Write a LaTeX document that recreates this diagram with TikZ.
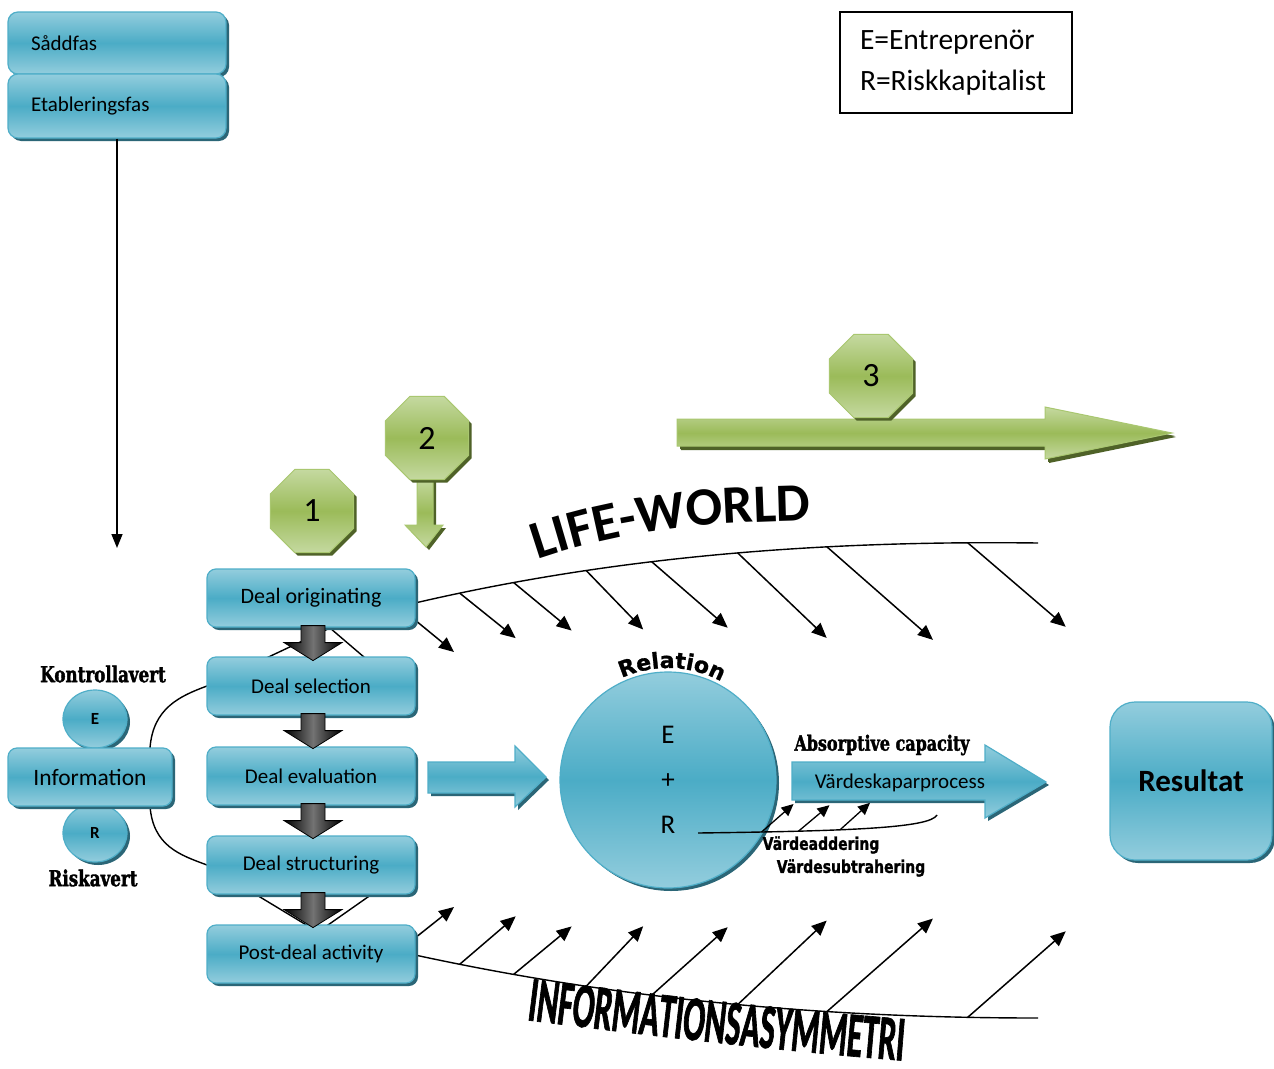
\documentclass[tikz,border=0pt]{standalone}
\usepackage{fontspec}
\setmainfont{Carlito}
\newfontfamily\slabfont[FakeStretch=0.76, FakeBold=1.6]{DejaVu Serif}
\newfontfamily\heavysans[FakeBold=1.2]{DejaVu Sans}
\newfontfamily\narrowheavy[FakeStretch=0.8, FakeBold=1.2]{DejaVu Sans}
\newfontfamily\squeezed[FakeStretch=0.5, FakeBold=1]{Carlito}
\usetikzlibrary{shapes.geometric, shadows, arrows.meta, decorations.text, calc}

\definecolor{bluelight}{HTML}{93CDDD}
\definecolor{bluemid}{HTML}{4BACC6}
\definecolor{blueedge}{HTML}{4FAEC8}
\definecolor{blueshadow}{HTML}{2B6677}
\definecolor{greenlight}{HTML}{C5D9A0}
\definecolor{greenmid}{HTML}{9BBB59}
\definecolor{greenedge}{HTML}{A9C770}
\definecolor{greenshadow}{HTML}{4F6228}

\tikzset{
  bluefill/.style={draw=blueedge, line width=1.2pt,
    top color=bluelight, bottom color=bluelight, middle color=bluemid,
    general shadow={fill=blueshadow, shadow xshift=3pt, shadow yshift=-3pt}},
  greenfill/.style={draw=greenedge, line width=1pt,
    top color=greenlight, bottom color=greenlight, middle color=greenmid,
    general shadow={fill=greenshadow, shadow xshift=3pt, shadow yshift=-3pt}},
  dealbox/.style={bluefill, rounded corners=9pt, minimum width=208pt,
    minimum height=58pt, inner sep=0pt, font=\fontsize{21}{25}\selectfont},
  phasebox/.style={bluefill, rounded corners=10pt, text width=172pt,
    inner xsep=23pt, inner ysep=0pt, align=left, minimum height=62pt,
    font=\fontsize{21}{25}\selectfont},
  octa/.style={greenfill, regular polygon, regular polygon sides=8,
    minimum size=90pt, inner sep=0pt, font=\fontsize{34}{34}\selectfont},
  hatch/.style={line width=1.5pt, -{Triangle[length=15pt,width=13pt]}},
  smallhatch/.style={line width=1.3pt, -{Triangle[length=12pt,width=11pt]}},
  thincurve/.style={line width=1.4pt},
  slab/.style={font=\slabfont\bfseries\fontsize{22}{26}\selectfont},
  pics/dealstep/.style={code={
    \path[draw=black, line width=0.8pt, left color=black, right color=black,
      middle color=black!55]
      (-12,0) -- (12,0) -- (12,17) -- (29,17) -- (0,35) -- (-29,17) -- (-12,17) -- cycle;}}
}

\begin{document}
\begin{tikzpicture}[x=1pt,y=-1pt]
\path[use as bounding box, fill=white] (0,0) rectangle (1274,1068);

% phases
\node[phasebox] (sadd) at (117,43) {Såddfas};
\node[phasebox, minimum height=64pt] (etab) at (117,106) {Etableringsfas};
\coordinate (phaseend) at (117,548);
\draw[line width=1.5pt, -{Triangle[length=14pt,width=11pt]}] (etab.south) -- (phaseend);

% legend
\node[draw, line width=1.3pt, text width=192pt, inner xsep=20pt, align=left,
  minimum height=101pt, font=\fontsize{29.5}{41}\selectfont] (legend) at (956,62.5)
  {E=Entreprenör\\R=Riskkapitalist};

% stage arrows and markers
\path[greenfill, general shadow={fill=greenshadow, shadow xshift=4pt, shadow yshift=-4pt}]
  (677,419) -- (1045,419) -- (1045,407) -- (1172,433) -- (1045,459) -- (1045,446) -- (677,446) -- cycle;
\path[greenfill] (417,478) -- (433,478) -- (433,525) -- (443,525) -- (426,547) -- (405,525) -- (417,525) -- cycle;
\node[octa] (n1) at (312,511) {1};
\node[octa] (n2) at (427,438) {2};
\node[octa] (n3) at (871,376) {3};

% centres of the deal boxes (the curves below run behind them)
\path (311,598) coordinate (origc) (311,686) coordinate (selc) (311,865) coordinate (structc) (311,954) coordinate (postc);

% information arcs around the deal steps
\draw[thincurve] (150,748) .. controls (153,708) and (180,696) .. (207,686) -- (330,628) -- (385,675);
\draw[thincurve] (150,806) .. controls (153,846) and (180,855) .. (207,865) -- (318,932) -- (385,885);

% life-world boundary
\draw[thincurve] (415,603) .. controls (600,560) and (800,540) .. (1038,543)
  coordinate[pos=0.08] (u1) coordinate[pos=0.175] (u2) coordinate[pos=0.3] (u3)
  coordinate[pos=0.41] (u4) coordinate[pos=0.55] (u5) coordinate[pos=0.69] (u6)
  coordinate[pos=0.9] (u7);
\draw[thincurve] (415,955) .. controls (600,995) and (800,1018) .. (1038,1018)
  coordinate[pos=0.08] (l1) coordinate[pos=0.175] (l2) coordinate[pos=0.3] (l3)
  coordinate[pos=0.41] (l4) coordinate[pos=0.55] (l5) coordinate[pos=0.69] (l6)
  coordinate[pos=0.9] (l7);

\draw[hatch] (415,620) -- ++(39,32);
\draw[hatch] (u1) -- ++(56,45);
\draw[hatch] (u2) -- ++(58,48);
\draw[hatch] (u3) -- ++(57,59);
\draw[hatch] (u4) -- ++(76,66);
\draw[hatch] (u5) -- ++(89,85);
\draw[hatch] (u6) -- ++(106,93);
\draw[hatch] (u7) -- ++(98,84);

\draw[hatch] (415,938) -- ++(39,-31);
\draw[hatch] (l1) -- ++(56,-48);
\draw[hatch] (l2) -- ++(58,-48);
\draw[hatch] (l3) -- ++(57,-60);
\draw[hatch] (l4) -- ++(76,-68);
\draw[hatch] (l5) -- ++(89,-84);
\draw[hatch] (l6) -- ++(106,-93);
\draw[hatch] (l7) -- ++(98,-86);

\path[decorate, decoration={text along path, text align=center,
  text={|\bfseries\fontsize{54}{54}\selectfont|LIFE-WORLD}}]
  (522,565) .. controls (637,523) and (722,523) .. (827,520);
\path[decorate, decoration={text along path, text align=center,
  text={|\squeezed\bfseries\fontsize{64}{64}\selectfont|INFORMATIONSASYMMETRI}}]
  (510,1018) .. controls (650,1036) and (790,1052) .. (920,1062);

% information node with the two actors
\node[bluefill, ellipse, minimum width=64pt, minimum height=58pt, inner sep=0pt,
  font=\bfseries\fontsize{17}{17}\selectfont] (ent) at (95,719) {E};
\node[bluefill, ellipse, minimum width=64pt, minimum height=58pt, inner sep=0pt,
  font=\bfseries\fontsize{17}{17}\selectfont] (risk) at (95,833) {R};
\node[bluefill, rounded corners=9pt, minimum width=164pt, minimum height=58pt,
  inner sep=0pt, font=\fontsize{23.5}{28}\selectfont] (info) at (90,777) {Information};
\node[slab] (kv) at (103,674) {Kontrollavert};
\node[slab] (rv) at (93,878) {Riskavert};

% deal process
\node[dealbox, font=\fontsize{22}{26}\selectfont] (orig) at (origc) {Deal originating};
\node[dealbox] (sel) at (selc) {Deal selection};
\node[dealbox] (eval) at (311,776) {Deal evaluation};
\node[dealbox] (struct) at (structc) {Deal structuring};
\node[dealbox] (post) at (postc) {Post-deal activity};
\pic at ($(orig.south)+(2,-2)$) {dealstep};
\pic at ($(sel.south)+(2,-2)$) {dealstep};
\pic at ($(eval.south)+(2,-2)$) {dealstep};
\pic at ($(struct.south)+(2,-2)$) {dealstep};

% relation
\path[bluefill] (428,762) -- (515,762) -- (515,746) -- (546,777) -- (515,807) -- (515,793) -- (428,793) -- cycle;
\node[bluefill, circle, minimum size=216pt, inner sep=0pt, align=center,
  font=\fontsize{27}{45}\selectfont] (rel) at (668,780) {E\\+\\R};
\path[decorate, decoration={text along path, text align=center,
  text={|\heavysans\bfseries\fontsize{22}{22}\selectfont|Relation}}]
  ($(rel.center)+(-118:112)$) arc[start angle=-118, end angle=-58, radius=112];

% value creation
\path[bluefill] (792,762) -- (985,762) -- (985,745) -- (1046,782) -- (985,818) -- (985,800) -- (792,800) -- cycle;
\node[font=\fontsize{21}{25}\selectfont] (vsp) at (900,783) {Värdeskaparprocess};
\node[slab, font=\slabfont\bfseries\fontsize{21}{24}\selectfont] (abs) at (882,745) {Absorptive capacity};

\draw[thincurve] ($(rel.center)+(30,53)$) .. controls (850,831) and (930,828) .. (937,815)
  coordinate[pos=0.15] (r1) coordinate[pos=0.25] (r2) coordinate[pos=0.38] (r3);
\draw[smallhatch] (r1) -- ++(32,-28);
\draw[smallhatch] (r2) -- ++(31,-26);
\draw[smallhatch] (r3) -- ++(30,-27);
\node[font=\narrowheavy\bfseries\fontsize{17.5}{20}\selectfont] (va) at (821,845) {Värdeaddering};
\node[font=\narrowheavy\bfseries\fontsize{17.5}{20}\selectfont] (vs) at (851,868) {Värdesubtrahering};

% result
\node[bluefill, rounded corners=25pt, minimum width=162pt, minimum height=158pt,
  font=\bfseries\fontsize{31}{31}\selectfont] (res) at (1191,781) {Resultat};
\end{tikzpicture}
\end{document}
